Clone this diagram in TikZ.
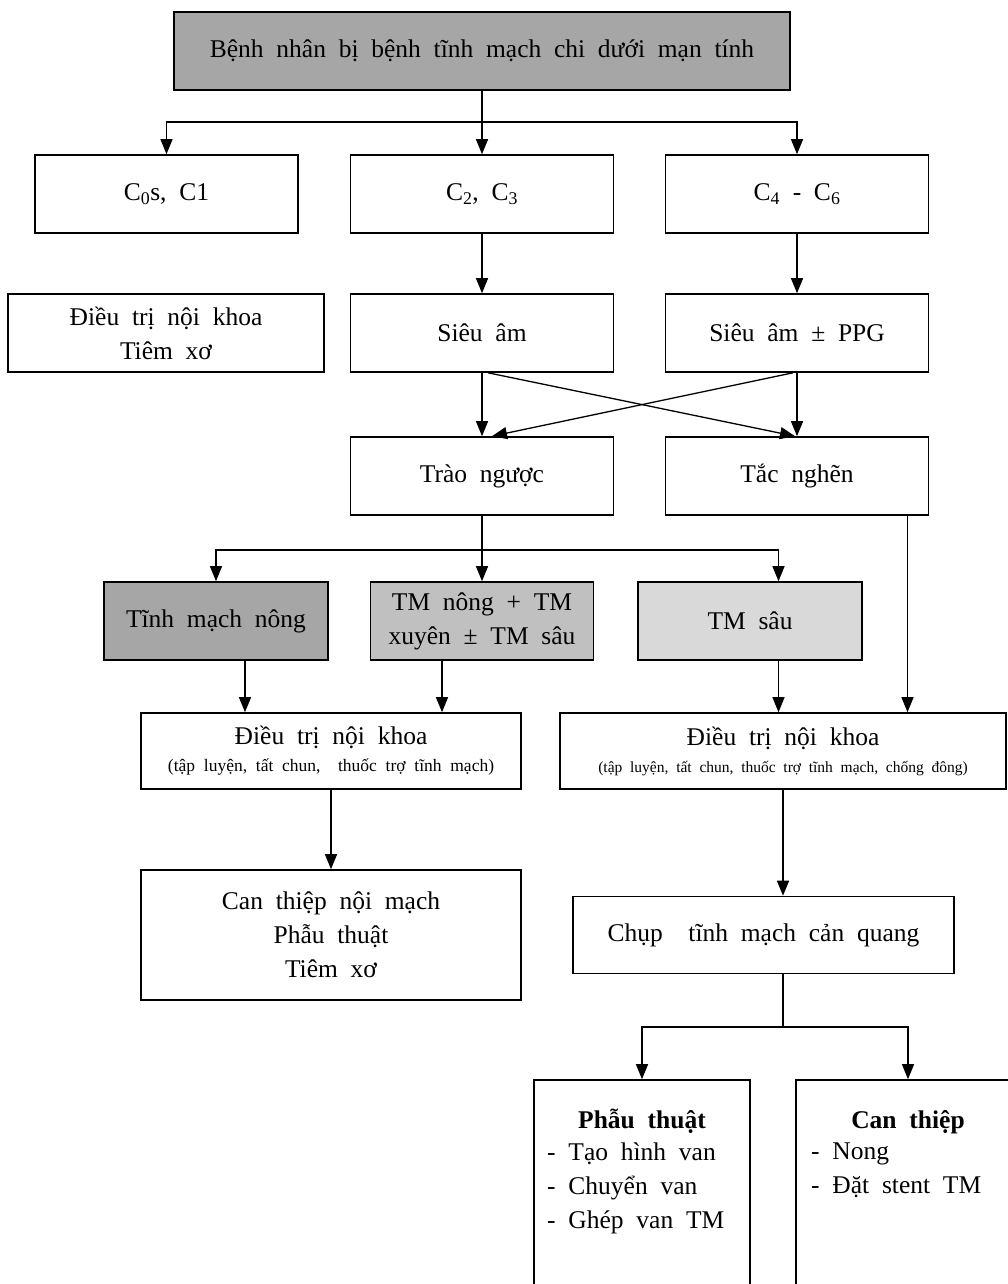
\documentclass[tikz,border=0pt]{standalone}
\usepackage{fontspec}
\setmainfont{Liberation Serif}[WordSpace=2]
\usetikzlibrary{arrows.meta,calc}

\definecolor{grayA}{HTML}{A6A6A6}
\definecolor{grayB}{HTML}{C0C0C0}
\definecolor{grayC}{HTML}{D9D9D9}

\newcommand\mainfs{\fontsize{25.5}{34}\selectfont}
\newcommand\subfs{\fontsize{15.5}{20}\selectfont}
\newcommand\subbigfs{\fontsize{17.5}{22}\selectfont}

\tikzset{
  box/.style={draw=black, line width=1.6pt, rectangle, inner sep=0pt,
              align=center, font=\mainfs, fill=white},
  arr/.style={-{Triangle[length=15pt,width=12pt]}, line width=1.3pt},
  ln/.style={line width=1.3pt},
  txt/.style={inner sep=0pt, font=\mainfs},
}

\begin{document}
\begin{tikzpicture}[x=1pt,y=-1pt]
\useasboundingbox (0,0) rectangle (1008,1284);
\clip (0,0) rectangle (1008,1284);

% top level
\node[box, fill=grayA, minimum width=616, minimum height=78] (top) at (482,51)
  {Bệnh nhân bị bệnh tĩnh mạch chi dưới mạn tính};

% CEAP classes
\node[box, minimum width=263, minimum height=78] (c01) at (166.5,194) {C\textsubscript{0}s, C1};
\node[box, minimum width=263, minimum height=78] (c23) at (482,194) {C\textsubscript{2}, C\textsubscript{3}};
\node[box, minimum width=263, minimum height=78] (c46) at (797,194) {C\textsubscript{4} - C\textsubscript{6}};

% first management / investigations
\node[box, minimum width=316, minimum height=78] (dt1) at (166,333) {Điều trị nội khoa\\Tiêm xơ};
\node[box, minimum width=263, minimum height=78] (sa) at (482,333) {Siêu âm};
\node[box, minimum width=263, minimum height=78] (sappg) at (797,333) {Siêu âm ± PPG};

% findings
\node[box, minimum width=263, minimum height=78] (tn) at (482,476) {Trào ngược};
\node[box, minimum width=263, minimum height=78] (tac) at (797,476) {Tắc nghẽn};

% reflux location
\node[box, fill=grayA, minimum width=224, minimum height=78] (tmn) at (216,621) {Tĩnh mạch nông};
\node[box, fill=grayB, minimum width=223, minimum height=78] (tmx) at (482,621) {TM nông + TM\\xuyên ± TM sâu};
\node[box, fill=grayC, minimum width=224, minimum height=78] (tms) at (750,621) {TM sâu};

% medical treatment
\node[box, minimum width=380, minimum height=76] (dt2) at (331,751)
  {Điều trị nội khoa\\[-7pt]{\subbigfs (tập luyện, tất chun, \ thuốc trợ tĩnh mạch)}};
\node[box, minimum width=446, minimum height=76] (dt3) at (783,751)
  {Điều trị nội khoa\\[-7pt]{\subfs (tập luyện, tất chun, thuốc trợ tĩnh mạch, chống đông)}};

% interventions
\node[box, minimum width=380, minimum height=130] (can) at (331,935)
  {Can thiệp nội mạch\\Phẫu thuật\\Tiêm xơ};
\node[box, minimum width=381, minimum height=77] (chup) at (763.5,935) {Chụp \ tĩnh mạch cản quang};

\node[box, minimum width=216, minimum height=230] (pt) at (642,1195) {};
\node[box, minimum width=234, minimum height=230] (ct) at (913,1195) {};

\node[txt, font=\mainfs\bfseries, anchor=base] (pthead) at (642,1128) {Phẫu thuật};
\node[txt, anchor=north west, align=left] (ptlist) at (547,1143)
  {- Tạo hình van\\- Chuyển van\\- Ghép van TM};
\node[txt, font=\mainfs\bfseries, anchor=base] (cthead) at (908,1128) {Can thiệp};
\node[txt, anchor=north west, align=left] (ctlist) at (811,1143)
  {- Nong\\- Đặt stent TM};

% connectors
\coordinate (j1) at (482,122);
\draw[arr] (top.south) -- (c23.north);
\draw[arr] (j1) -| (c01.north);
\draw[arr] (j1) -| (c46.north);

\draw[arr] (c23.south) -- (sa.north);
\draw[arr] (c46.south) -- (sappg.north);

\draw[arr] (sa.south) -- (tn.north);
\draw[arr] (sappg.south) -- (tac.north);
\draw[arr] ([xshift=6pt]sa.south) -- ([xshift=-2pt]tac.north);
\draw[arr] ([xshift=-4pt]sappg.south) -- ([xshift=10pt]tn.north);

\coordinate (j2) at (482,550);
\coordinate (tmsin) at ([xshift=28.5pt]tms.north);
\draw[ln] (tn.south) -- (j2);
\draw[arr] (j2) -| (tmn.north);
\draw[arr] (j2) -- (tmx.north);
\draw[arr] (j2) -| (tmsin);

\coordinate (tacr) at ([xshift=110.5pt]tac.south);
\draw[arr] (tacr) -- (tacr |- dt3.north);

\coordinate (tmnb) at ([xshift=29pt]tmn.south);
\coordinate (tmxb) at ([xshift=-40pt]tmx.south);
\coordinate (tmsb) at ([xshift=28.5pt]tms.south);
\draw[arr] (tmnb) -- (tmnb |- dt2.north);
\draw[arr] (tmxb) -- (tmxb |- dt2.north);
\draw[arr] (tmsb) -- (tmsb |- dt3.north);

\draw[arr] (dt2.south) -- (can.north);
\draw[arr] (dt3.south) -- (dt3.south |- chup.north);

\coordinate (j3) at (783,1027);
\coordinate (ctin) at ([xshift=-5pt]ct.north);
\draw[ln] (dt3.south |- chup.south) -- (j3);
\draw[arr] (j3) -| (pt.north);
\draw[arr] (j3) -| (ctin);
\end{tikzpicture}
\end{document}
